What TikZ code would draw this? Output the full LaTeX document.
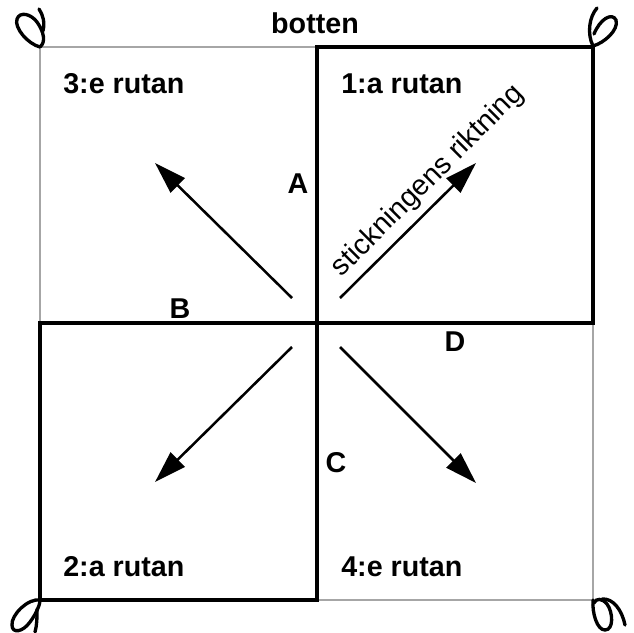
\documentclass[tikz,border=0pt]{standalone}
\usepackage{fontspec}
\setmainfont{Liberation Sans}
\usetikzlibrary{arrows.meta}

\begin{document}
\begin{tikzpicture}[x=0.75pt, y=-0.75pt,
    lbl/.style={font=\fontsize{21.5}{25}\selectfont\bfseries, inner sep=0pt},
    ram/.style={draw=black!35, line width=1.1pt},
    ruta/.style={draw=black, line width=2.4pt},
    arr/.style={line width=1.9pt, -{Triangle[length=24pt,width=15pt]}},
    knut/.style={line width=2.5pt, line cap=round}
  ]
  \useasboundingbox (0,0) rectangle (634,632);

  % outer frame and the two squares
  \draw[ram] (40,47) rectangle (593,600);
  \draw[ruta] (317,47) rectangle (593,323);
  \draw[ruta] (40,323) rectangle (317,600);

  % start and end points of the arrows
  \coordinate (nwS) at (292,298); \coordinate (nwE) at (155,163);
  \coordinate (neS) at (340,298); \coordinate (neE) at (476,163);
  \coordinate (swS) at (292,347); \coordinate (swE) at (155,482);
  \coordinate (seS) at (340,347); \coordinate (seE) at (476,483);

  \draw[arr] (nwS) -- (nwE);
  \draw[arr] (neS) -- (neE);
  \draw[arr] (swS) -- (swE);
  \draw[arr] (seS) -- (seE);

  % labels
  \node[lbl] (botten) at (315,23) {botten};
  \node[lbl, anchor=west] (ruta3) at (63,84) {3:e rutan};
  \node[lbl, anchor=west] (ruta1) at (341,84) {1:a rutan};
  \node[lbl, anchor=west] (ruta2) at (63,567) {2:a rutan};
  \node[lbl, anchor=west] (ruta4) at (341,567) {4:e rutan};
  \node[lbl] (A) at (298,184) {A};
  \node[lbl] (B) at (180,309) {B};
  \node[lbl] (C) at (336,463) {C};
  \node[lbl] (D) at (455,342) {D};
  \node[font=\fontsize{21.5}{25}\selectfont, inner sep=0pt, rotate=45] (riktning)
    at (428,181) {stickningens riktning};

  % corner loops
  \draw[knut] (40,47) .. controls (28,44) and (14,28) .. (17,19)
    .. controls (20,11) and (31,14) .. (37,22)
    .. controls (44,32) and (46,42) .. (40,47);
  \draw[knut] (43,31) .. controls (45,22) and (43,15) .. (39,9);
  \draw[knut] (597,8) .. controls (589,17) and (587,34) .. (593,46)
    .. controls (604,43) and (619,30) .. (616,20)
    .. controls (612,12) and (600,19) .. (594,34);
  \draw[knut] (40,600) .. controls (28,598) and (11,615) .. (12,625)
    .. controls (12,634) and (23,632) .. (30,622)
    .. controls (36,614) and (40,605) .. (40,600);
  \draw[knut] (37,609) .. controls (37,618) and (37,625) .. (35,632);
  \draw[knut] (593,600) .. controls (592,613) and (597,630) .. (605,630)
    .. controls (614,630) and (613,612) .. (607,604)
    .. controls (602,598) and (596,598) .. (594,603);
  \draw[knut] (602,599) .. controls (613,598) and (622,610) .. (625,625);
\end{tikzpicture}
\end{document}
